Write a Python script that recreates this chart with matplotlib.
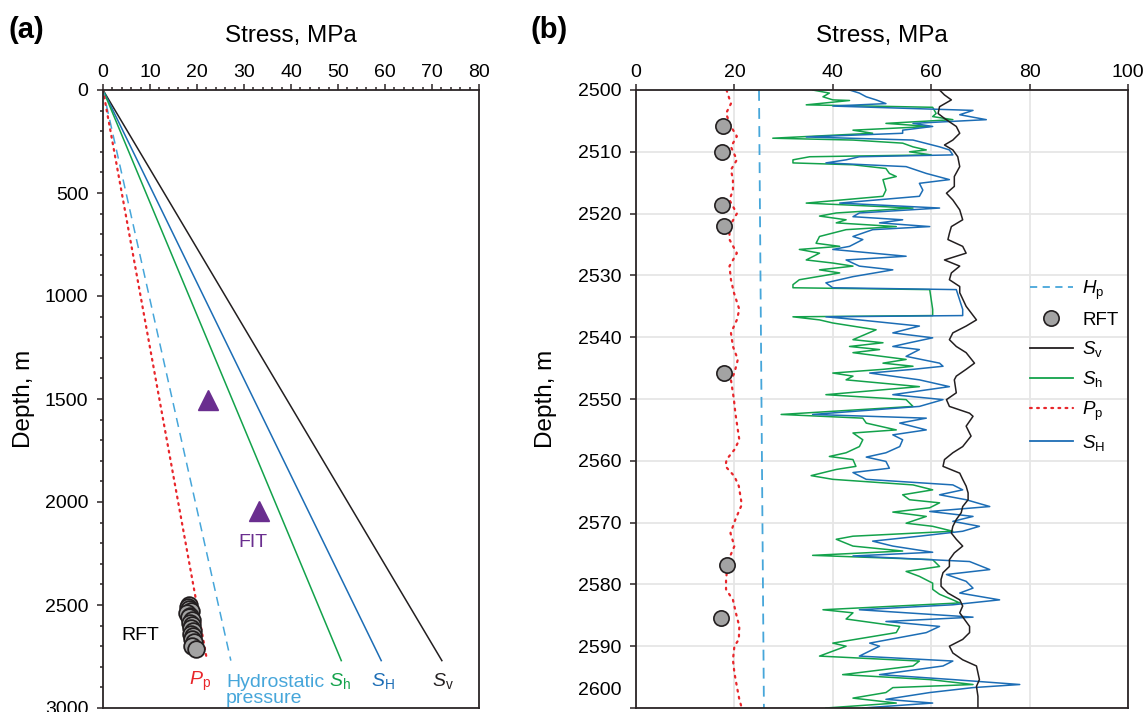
import matplotlib
matplotlib.use('Agg')
import matplotlib.pyplot as plt
from matplotlib.lines import Line2D
from matplotlib.ticker import MultipleLocator, FixedLocator, FixedFormatter
import matplotlib.transforms as mtransforms

plt.rcParams['font.family'] = ['Liberation Sans', 'DejaVu Sans']
plt.rcParams['mathtext.fontset'] = 'custom'
plt.rcParams['mathtext.rm'] = 'Liberation Sans'
plt.rcParams['mathtext.it'] = 'Liberation Sans:italic'

C_SV = '#231f20'
C_SH_MIN = '#13a24b'
C_SH_MAX = '#1c6db5'
C_PP = '#e8262b'
C_HP = '#46a6da'
C_FIT = '#6a2e8f'
C_RFT = '#a3a3a3'
C_AX = '#2b2526'

# ---------------- (a) whole well ----------------
a_depth = [0, 2770]
a_sv = [0, 72.1]
a_shmax = [0, 59.2]
a_shmin = [0, 50.7]
a_hp = [0, 27.2]
a_pp_depth = [0, 2752]
a_pp = [0, 22.0]

fit_stress = [22.3, 33.1]
fit_depth = [1505, 2044]

rft_a_stress = [18.4, 18.0, 18.3, 18.8, 17.9, 18.5, 18.2, 18.9, 18.6, 19.0, 18.7, 19.1, 18.8, 19.2, 18.9, 19.3, 19.0, 19.8]
rft_a_depth = [2500, 2508, 2518, 2528, 2540, 2552, 2560, 2574, 2586, 2598, 2612, 2626, 2640, 2652, 2664, 2680, 2700, 2712]

# ---------------- (b) 2500-2600 m ----------------
sv_depth = [2500.0, 2500.8, 2501.6, 2502.7, 2503.8, 2504.6, 2505.9, 2507.0, 2508.1, 2508.9, 2509.7,
            2510.8, 2512.4, 2514.0, 2515.6, 2516.7, 2517.8, 2519.4, 2521.0, 2522.1, 2523.2, 2524.2,
            2525.3, 2526.4, 2527.5, 2528.5, 2529.6, 2530.7, 2531.8, 2532.8, 2535.0, 2537.2, 2538.2,
            2539.3, 2540.4, 2541.5, 2542.5, 2544.2, 2545.2, 2546.3, 2546.9, 2549.0, 2550.1, 2551.2,
            2552.3, 2552.8, 2554.4, 2556.0, 2557.7, 2558.7, 2559.8, 2560.9, 2562.0, 2563.0, 2564.1,
            2565.2, 2566.3, 2567.4, 2568.4, 2569.5, 2570.6, 2571.7, 2572.7, 2573.8, 2574.9, 2576.0,
            2577.1, 2578.1, 2579.2, 2580.3, 2581.4, 2582.5, 2583.5, 2584.6, 2585.7, 2586.8, 2587.8,
            2588.9, 2590.0, 2591.1, 2592.2, 2593.2, 2594.3, 2595.4, 2596.5, 2598.1, 2600.0]
sv_val = [61.7, 62.7, 64.1, 61.7, 61.4, 62.7, 65.1, 65.8, 64.4, 62.7, 64.4,
          65.4, 65.8, 64.7, 64.7, 63.1, 64.4, 65.8, 66.4, 64.1, 63.7, 63.4,
          66.4, 67.1, 62.7, 65.8, 64.1, 63.7, 65.8, 65.8, 67.1, 69.2, 67.1,
          64.4, 63.7, 65.1, 67.1, 68.8, 67.1, 65.1, 64.7, 65.1, 63.1, 63.7,
          67.8, 68.5, 67.1, 68.1, 66.4, 64.4, 62.7, 62.4, 65.8, 66.4, 67.1,
          67.5, 67.5, 66.4, 66.1, 65.1, 64.4, 64.1, 65.1, 66.4, 64.7, 63.7,
          63.7, 62.4, 62.0, 62.0, 63.4, 65.8, 66.4, 65.8, 66.8, 67.8, 67.8,
          66.4, 63.7, 64.4, 66.4, 69.2, 69.5, 69.8, 69.2, 69.5, 69.5]

shmin_depth = [2500.0, 2500.5, 2501.1, 2501.6, 2501.7, 2502.4, 2502.8, 2503.8, 2504.3, 2504.8, 2505.4,
               2505.9, 2506.5, 2507.0, 2507.8, 2508.1, 2508.6, 2509.2, 2509.7, 2510.0, 2510.5, 2510.8,
               2511.3, 2511.8, 2512.1, 2512.7, 2513.5, 2514.0, 2514.5, 2516.2, 2517.2, 2518.3, 2519.1,
               2519.9, 2520.4, 2521.0, 2521.5, 2522.1, 2522.6, 2523.7, 2524.8, 2525.3, 2525.8, 2526.4,
               2527.5, 2528.0, 2528.5, 2529.1, 2529.6, 2530.7, 2531.5, 2532.0, 2532.3, 2535.5, 2536.5,
               2536.7, 2537.2, 2537.7, 2538.8, 2540.4, 2540.9, 2541.5, 2542.0, 2542.5, 2543.6, 2544.2,
               2544.7, 2545.2, 2545.8, 2546.3, 2546.9, 2548.0, 2549.3, 2550.1, 2551.2, 2552.5, 2553.1,
               2553.9, 2555.0, 2555.5, 2556.6, 2557.7, 2558.7, 2559.3, 2559.8, 2560.9, 2561.4, 2562.4,
               2563.0, 2563.9, 2564.7, 2565.5, 2566.3, 2566.8, 2567.6, 2568.3, 2569.0, 2570.1, 2570.6,
               2571.4, 2572.2, 2572.7, 2573.8, 2574.6, 2575.3, 2576.0, 2577.1, 2577.9, 2578.7, 2579.8,
               2580.8, 2581.6, 2582.5, 2583.0, 2584.1, 2584.6, 2585.6, 2586.8, 2587.8, 2589.5, 2590.0,
               2591.6, 2592.4, 2593.2, 2594.6, 2595.4, 2596.2, 2596.7, 2597.5, 2598.4, 2599.2, 2600.0]
shmin_val = [35.9, 39.3, 38.0, 40.0, 43.4, 34.6, 60.3, 61.0, 60.3, 64.4, 50.8,
             59.7, 44.1, 48.1, 27.8, 44.1, 54.2, 56.3, 59.0, 55.6, 60.0, 35.3,
             31.9, 31.9, 44.1, 50.8, 51.5, 52.9, 50.2, 50.8, 50.2, 34.6, 56.3,
             40.7, 37.3, 42.7, 40.7, 52.9, 42.7, 37.3, 36.6, 41.4, 33.2, 37.3,
             34.6, 40.0, 44.1, 37.3, 41.4, 33.2, 31.9, 31.9, 59.7, 60.3, 60.3,
             31.9, 37.3, 40.0, 48.8, 44.1, 50.2, 43.4, 49.5, 44.1, 54.9, 50.2,
             56.3, 50.2, 40.0, 44.1, 42.7, 57.6, 38.6, 54.9, 56.3, 29.5, 46.1,
             46.8, 52.9, 44.1, 46.1, 45.4, 42.7, 39.3, 44.1, 44.7, 40.7, 35.6,
             40.0, 56.3, 60.3, 54.2, 55.6, 61.7, 59.7, 52.2, 59.0, 54.9, 60.3,
             64.4, 44.1, 40.7, 44.1, 54.2, 35.9, 60.3, 61.7, 54.9, 57.6, 60.3,
             60.3, 61.7, 64.4, 65.8, 38.0, 44.1, 42.7, 53.6, 52.9, 40.0, 42.7,
             37.3, 57.6, 56.3, 42.0, 59.7, 68.5, 52.2, 50.8, 44.1, 52.9, 38.6]

shmax_depth = [2500.0, 2500.5, 2501.1, 2501.6, 2502.2, 2502.6, 2503.3, 2504.0, 2504.8, 2505.4, 2505.9,
               2506.5, 2507.0, 2507.6, 2508.1, 2509.2, 2509.7, 2510.5, 2510.8, 2511.3, 2511.8, 2512.4,
               2513.5, 2514.5, 2515.1, 2516.2, 2517.2, 2518.3, 2519.1, 2519.9, 2520.5, 2521.0, 2521.5,
               2522.1, 2522.6, 2523.7, 2524.2, 2525.3, 2525.8, 2526.9, 2527.5, 2528.5, 2529.1, 2530.2,
               2531.2, 2532.0, 2532.3, 2535.5, 2536.5, 2536.7, 2537.2, 2538.2, 2539.3, 2540.1, 2540.9,
               2541.5, 2542.0, 2543.1, 2544.2, 2544.7, 2545.2, 2545.8, 2546.9, 2548.0, 2549.3, 2550.1,
               2551.2, 2552.5, 2553.1, 2553.9, 2555.0, 2555.8, 2556.6, 2557.7, 2558.7, 2559.4, 2560.1,
               2561.2, 2561.9, 2563.0, 2563.9, 2564.7, 2565.5, 2566.3, 2567.4, 2568.2, 2569.0, 2569.8,
               2570.6, 2571.4, 2572.2, 2573.0, 2573.8, 2574.8, 2575.4, 2576.3, 2577.6, 2578.4, 2579.5,
               2580.6, 2581.4, 2582.5, 2583.3, 2584.1, 2585.3, 2586.0, 2586.8, 2587.8, 2589.5, 2590.0,
               2591.6, 2592.4, 2593.2, 2594.6, 2595.4, 2596.2, 2596.7, 2597.5, 2598.6, 2599.2, 2600.0]
shmax_val = [43.4, 45.4, 46.8, 48.8, 50.8, 40.0, 68.5, 65.8, 71.2, 56.3, 60.3,
             54.2, 54.2, 34.6, 56.3, 61.7, 63.7, 64.4, 45.4, 42.7, 38.6, 54.9,
             59.0, 63.7, 57.6, 58.3, 57.6, 41.4, 61.7, 45.4, 44.1, 54.2, 49.5,
             59.7, 48.1, 44.1, 46.1, 43.4, 40.0, 54.9, 42.7, 45.4, 52.2, 44.1,
             38.6, 40.0, 65.1, 66.4, 66.4, 38.6, 45.4, 57.6, 52.2, 60.3, 55.6,
             52.2, 57.6, 54.9, 61.7, 62.4, 56.3, 47.5, 57.6, 63.7, 52.2, 62.4,
             57.6, 35.9, 59.0, 53.6, 59.0, 52.2, 54.2, 53.6, 50.8, 46.8, 50.8,
             51.5, 44.1, 46.8, 64.4, 66.4, 61.7, 67.1, 71.9, 59.7, 68.5, 64.4,
             69.8, 66.4, 57.6, 48.1, 52.2, 60.3, 44.1, 67.8, 71.9, 63.1, 67.1,
             68.5, 65.8, 73.9, 64.4, 45.4, 68.5, 50.8, 61.7, 59.0, 47.5, 49.5,
             45.4, 64.4, 62.4, 49.5, 64.4, 78.0, 68.5, 59.7, 50.8, 60.3, 46.1]

pp_depth = [2500.0, 2502.2, 2503.8, 2505.9, 2507.5, 2509.2, 2511.3, 2512.9, 2514.5, 2516.2, 2517.8,
            2520.0, 2522.1, 2524.2, 2526.4, 2528.5, 2530.7, 2532.8, 2535.5, 2537.2, 2539.3, 2541.5,
            2543.6, 2545.8, 2546.9, 2550.1, 2552.3, 2555.0, 2556.6, 2558.2, 2559.8, 2560.9, 2562.5,
            2564.1, 2567.1, 2569.5, 2571.7, 2573.8, 2575.5, 2577.1, 2579.2, 2580.8, 2582.5, 2584.6,
            2586.8, 2588.9, 2590.0, 2592.2, 2594.3, 2596.5, 2598.6, 2600.0]
pp_val = [18.4, 19.3, 18.3, 19.3, 20.5, 19.3, 20.5, 19.3, 19.7, 19.7, 19.0,
          20.5, 19.0, 19.0, 20.5, 19.0, 19.3, 19.9, 21.0, 20.5, 19.3, 19.7,
          20.7, 20.0, 19.3, 19.9, 20.2, 20.7, 21.0, 20.0, 18.4, 18.2, 20.0,
          20.9, 21.5, 20.2, 19.2, 20.0, 19.1, 18.6, 18.3, 18.3, 19.7, 20.3,
          21.0, 20.9, 20.0, 19.7, 20.0, 20.5, 21.0, 21.5]

hp_b_depth = [2500, 2600]
hp_b_val = [25.0, 26.0]

rft_b_stress = [17.6, 17.5, 17.5, 17.9, 17.8, 18.5, 17.3]
rft_b_depth = [2505.8, 2510.0, 2518.6, 2522.0, 2545.8, 2576.9, 2585.5]

b_yticks = [2500, 2510, 2520, 2530, 2540, 2550, 2560, 2570, 2580, 2590, 2600]


fig = plt.figure(figsize=(11.43, 7.12), dpi=100)
ax1 = fig.add_axes([103 / 1143, 4 / 712, 376 / 1143, 618 / 712])
ax2 = fig.add_axes([636 / 1143, 4 / 712, 492 / 1143, 618 / 712])

TICK_LEN = 4.5
Y_PAD = 6


def style_axis(ax):
    ax.xaxis.tick_top()
    ax.xaxis.set_label_position('top')
    for s in ax.spines.values():
        s.set_color(C_AX)
        s.set_linewidth(1.3)
    ax.tick_params(which='both', direction='out', color=C_AX, width=1.1, labelsize=14, colors='black')
    ax.tick_params(which='major', length=TICK_LEN)
    ax.tick_params(which='minor', length=2.5)
    ax.tick_params(axis='x', pad=2)
    ax.tick_params(axis='y', pad=Y_PAD)


# ---- panel (a)
lw = 1.1
ax1.plot(a_sv, a_depth, color=C_SV, lw=lw)
ax1.plot(a_shmax, a_depth, color=C_SH_MAX, lw=lw)
ax1.plot(a_shmin, a_depth, color=C_SH_MIN, lw=lw)
ax1.plot(a_hp, a_depth, color=C_HP, lw=lw, dashes=(6, 4))
ax1.plot(a_pp, a_pp_depth, color=C_PP, lw=1.6, ls=(0, (0.8, 2.2)), dash_capstyle='round')
ax1.plot(rft_a_stress, rft_a_depth, 'o', ms=12, mfc=C_RFT, mec=C_SV, mew=1.3, ls='none')
ax1.plot(fit_stress, fit_depth, '^', ms=15, color=C_FIT, ls='none')

ax1.set_xlim(0, 80)
ax1.set_ylim(3000, 0)
ax1.xaxis.set_major_locator(MultipleLocator(10))
ax1.xaxis.set_minor_locator(MultipleLocator(2))
ax1.yaxis.set_major_locator(MultipleLocator(500))
ax1.yaxis.set_minor_locator(MultipleLocator(100))
style_axis(ax1)
ax1.set_xlabel('Stress, MPa', fontsize=17.5, labelpad=16)
ax1.set_ylabel('Depth, m', fontsize=17.5, labelpad=7)

tk = dict(fontsize=14, va='center')
ax1.text(7.9, 2646, 'RFT', color='black', ha='center', **tk)
ax1.text(31.8, 2199, 'FIT', color=C_FIT, ha='center', **tk)
ax1.text(20.6, 2870, r'$\mathit{P}_\mathrm{p}$', color=C_PP, ha='center', **tk)
ax1.text(26.2, 2915, 'Hydrostatic\npressure', color=C_HP, ha='left', fontsize=14,
         va='center', linespacing=0.95)
ax1.text(50.4, 2870, r'$\mathit{S}_\mathrm{h}$', color=C_SH_MIN, ha='center', **tk)
ax1.text(59.6, 2870, r'$\mathit{S}_\mathrm{H}$', color=C_SH_MAX, ha='center', **tk)
ax1.text(72.4, 2870, r'$\mathit{S}_\mathrm{v}$', color=C_SV, ha='center', **tk)

# ---- panel (b)
ax2.grid(True, color='#e6e6e6', lw=1.3)
ax2.set_axisbelow(True)
ax2.plot(hp_b_val, hp_b_depth, color=C_HP, lw=1.3, dashes=(6, 4))
ax2.plot(pp_val, pp_depth, color=C_PP, lw=1.6, ls=(0, (0.8, 2.4)), dash_capstyle='round')
ax2.plot(shmin_val, shmin_depth, color=C_SH_MIN, lw=1.1)
ax2.plot(shmax_val, shmax_depth, color=C_SH_MAX, lw=1.1)
ax2.plot(sv_val, sv_depth, color=C_SV, lw=1.1)
ax2.plot(rft_b_stress, rft_b_depth, 'o', ms=11, mfc=C_RFT, mec=C_SV, mew=1.2, ls='none')

ax2.set_xlim(0, 100)
ax2.set_ylim(2600, 2500)
ax2.xaxis.set_major_locator(MultipleLocator(20))
ax2.yaxis.set_major_locator(FixedLocator(b_yticks))
ax2.yaxis.set_major_formatter(FixedFormatter([str(v) for v in b_yticks[:-1]] + ['']))
style_axis(ax2)
ax2.set_xlabel('Stress, MPa', fontsize=17.5, labelpad=16)
ax2.set_ylabel('Depth, m', fontsize=17.5, labelpad=15)

# bottom label sits a little above its tick, as in the source figure
off = mtransforms.ScaledTranslation(-(TICK_LEN + Y_PAD) / 72, 0, fig.dpi_scale_trans)
ax2.text(0, 2597.2, str(b_yticks[-1]), transform=ax2.get_yaxis_transform() + off,
         ha='right', va='center', fontsize=14)

handles = [
    Line2D([], [], color=C_HP, lw=1.3, dashes=(4, 3)),
    Line2D([], [], marker='o', ms=11, mfc=C_RFT, mec=C_SV, mew=1.2, ls='none'),
    Line2D([], [], color=C_SV, lw=1.3),
    Line2D([], [], color=C_SH_MIN, lw=1.3),
    Line2D([], [], color=C_PP, lw=1.6, ls=(0, (0.8, 2.4)), dash_capstyle='round'),
    Line2D([], [], color=C_SH_MAX, lw=1.3),
]
labels = [r'$\mathit{H}_\mathrm{p}$', 'RFT', r'$\mathit{S}_\mathrm{v}$',
          r'$\mathit{S}_\mathrm{h}$', r'$\mathit{P}_\mathrm{p}$', r'$\mathit{S}_\mathrm{H}$']
ax2.legend(handles, labels, loc='upper left', bbox_to_anchor=(0.80, 0.695), frameon=False,
           fontsize=13.5, handlelength=2.3, handletextpad=0.5, labelspacing=0.54,
           borderaxespad=0, borderpad=0)

fig.text(8 / 1143, 1 - 30 / 712, '(a)', fontsize=21, fontweight='bold', va='center', ha='left')
fig.text(530 / 1143, 1 - 30 / 712, '(b)', fontsize=21, fontweight='bold', va='center', ha='left')

fig.savefig('out.png', dpi=100)
